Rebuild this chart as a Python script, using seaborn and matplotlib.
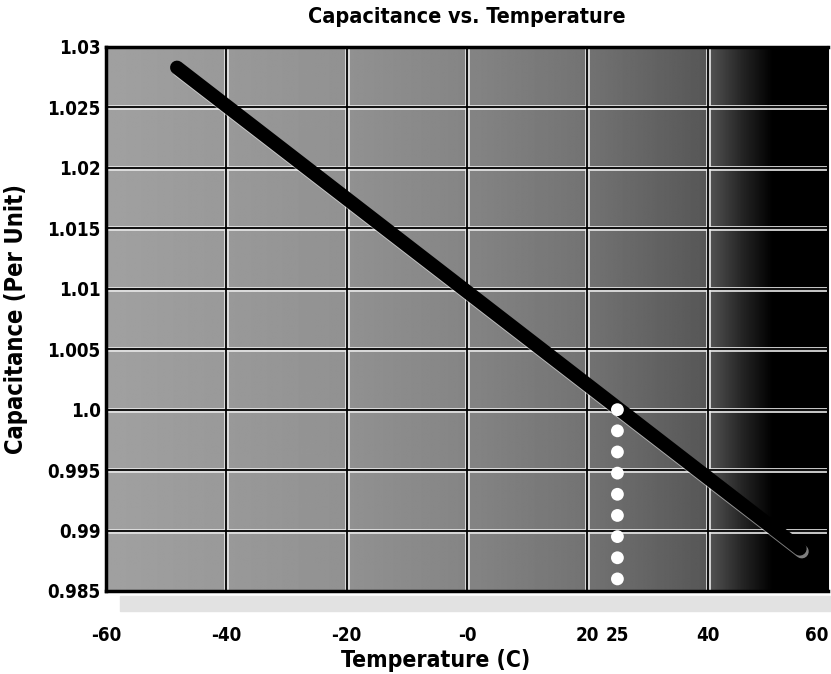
import numpy as np
import pandas as pd
import matplotlib
matplotlib.use("Agg")
import matplotlib.pyplot as plt
import matplotlib.patheffects as pe
import seaborn as sns

# ---- data ----
temp_c = [-48.2, 55.3]
capacitance = [1.0283, 0.9885]
marker_temp = [25, 25, 25, 25, 25, 25, 25, 25, 25]
marker_cap = [1.0, 0.99825, 0.9965, 0.99475, 0.993, 0.99125, 0.9895, 0.98775, 0.986]
x_ticks = [-60, -40, -20, 0, 20, 25, 40, 60]
x_tick_labels = ["-60", "-40", "-20", "-0", "20", "25", "40", "60"]
x_grid = [-40, -20, 0, 20, 40]
y_ticks = [1.03, 1.025, 1.02, 1.015, 1.01, 1.005, 1.0, 0.995, 0.99, 0.985]
y_tick_labels = ["1.03", "1.025", "1.02", "1.015", "1.01", "1.005", "1.0", "0.995", "0.99", "0.985"]
y_grid = [1.025, 1.02, 1.015, 1.01, 1.005, 1.0, 0.995, 0.99]

sns.set_style("white")
plt.rcParams["font.family"] = ["DejaVu Sans"]
plt.rcParams["font.stretch"] = "condensed"
plt.rcParams["font.weight"] = "bold"
plt.rcParams["text.color"] = "black"
plt.rcParams["axes.labelcolor"] = "black"
plt.rcParams["xtick.color"] = "black"
plt.rcParams["ytick.color"] = "black"

fig = plt.figure(figsize=(8.31, 6.74), dpi=100)
ax = fig.add_axes([106 / 831, 1 - 591 / 674, 722 / 831, 544 / 674])

xmin, xmax, ymin, ymax = -60, 60, 0.985, 1.03

# background gradient (lighter left, black right)
grad_x = [-60, -20, 0, 20, 40, 46, 51, 60]
grad_v = [0.63, 0.57, 0.52, 0.45, 0.34, 0.14, 0.0, 0.0]
xs = np.linspace(xmin, xmax, 600)
vals = np.interp(xs, grad_x, grad_v)
img = np.tile(vals, (10, 1))
ax.imshow(img, extent=[xmin, xmax, ymin, ymax], aspect="auto", cmap="gray",
          vmin=0, vmax=1, origin="lower", zorder=0, interpolation="bilinear")

# grid: black line with light borders
for gx in x_grid:
    ax.axvline(gx, color="#e6e6e6", lw=3.6, zorder=1, alpha=0.85)
    ax.axvline(gx, color="black", lw=1.3, zorder=1.1)
for gy in y_grid:
    ax.axhline(gy, color="#e6e6e6", lw=3.6, zorder=1, alpha=0.85)
    ax.axhline(gy, color="black", lw=1.3, zorder=1.1)

df = pd.DataFrame({"Temperature": temp_c, "Capacitance": capacitance})
sns.lineplot(data=df, x="Temperature", y="Capacitance", ax=ax, color="black",
             lw=10, solid_capstyle="round", zorder=3,
             path_effects=[pe.SimpleLineShadow(offset=(1.5, -2.0), shadow_color="white", alpha=0.5),
                           pe.Normal()])

dm = pd.DataFrame({"Temperature": marker_temp, "Capacitance": marker_cap})
sns.scatterplot(data=dm, x="Temperature", y="Capacitance", ax=ax, color="white",
                s=85, edgecolor="none", zorder=4)

ax.set_xlim(xmin, xmax)
ax.set_ylim(ymin, ymax)
ax.set_xticks(x_ticks)
ax.set_xticklabels(x_tick_labels)
ax.set_yticks(y_ticks)
ax.set_yticklabels(y_tick_labels)
ax.tick_params(axis="both", length=0, labelsize=13.5, labelcolor="black")
ax.tick_params(axis="x", pad=25)
ax.tick_params(axis="y", pad=4)
for lab in ax.get_xticklabels() + ax.get_yticklabels():
    lab.set_fontweight("bold")
    lab.set_fontstretch("condensed")
ax.get_xticklabels()[-1].set_horizontalalignment("right")

for side in ["left", "bottom", "top"]:
    ax.spines[side].set_visible(True)
    ax.spines[side].set_color("black")
    ax.spines[side].set_linewidth(2.5)
ax.spines["right"].set_visible(True)
ax.spines["right"].set_color("black")
ax.spines["right"].set_linewidth(1.5)

ax.set_xlabel("Temperature (C)", fontsize=16.5, fontweight="bold", fontstretch="condensed")
ax.xaxis.set_label_coords(0.457, -0.107)
ax.set_ylabel("Capacitance (Per Unit)", fontsize=17, fontweight="bold", fontstretch="condensed")
ax.yaxis.set_label_coords(-0.108, 0.5)
ax.set_title("Capacitance vs. Temperature", fontsize=15.5, fontweight="bold",
             fontstretch="condensed", pad=17)

# light band below the plot (scan artifact)
fig.patches.append(plt.Rectangle((120 / 831, 1 - 611 / 674), 711 / 831, 15 / 674,
                                 transform=fig.transFigure, color="#e2e2e2", zorder=0))

fig.savefig("out.png", dpi=100)
